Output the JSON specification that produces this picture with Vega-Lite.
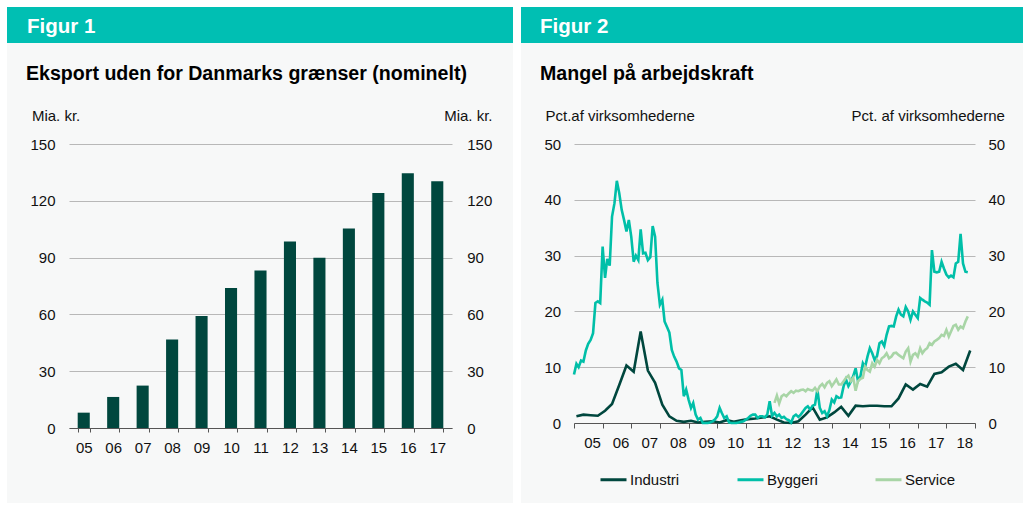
{
"$schema":"https://vega.github.io/schema/vega-lite/v6.json",
"background":"#f7f8f8",
"padding":0,
"columns":8,
"spacing":0,
"bounds":"flush",
"align":"each",
"config":{
 "view":{"stroke":null},
 "font":"Liberation Sans",
 "text":{"fontSize":0.1},
 "axis":{"labelFont":"Liberation Sans","labelFontSize":15,"labelColor":"#111111","titleFont":"Liberation Sans","titleFontSize":15,"titleFontWeight":"normal","titleColor":"#111111"},
 "legend":{"labelFont":"Liberation Sans","labelFontSize":15,"labelColor":"#111111"}
},
"datasets":{
 "blank":[{}],
 "bars":[
  {"year":"05","value":8.1},{"year":"06","value":16.4},{"year":"07","value":22.4},{"year":"08","value":46.7},
  {"year":"09","value":59.1},{"year":"10","value":74.0},{"year":"11","value":83.2},{"year":"12","value":98.5},
  {"year":"13","value":89.9},{"year":"14","value":105.4},{"year":"15","value":124.1},{"year":"16","value":134.5},
  {"year":"17","value":130.3}
 ],
 "lines":[
  {"d":"2005-02","s":"Industri","v":1.2},{"d":"2005-05","s":"Industri","v":1.5},{"d":"2005-08","s":"Industri","v":1.4},{"d":"2005-11","s":"Industri","v":1.3},
  {"d":"2006-02","s":"Industri","v":2.2},{"d":"2006-05","s":"Industri","v":3.4},{"d":"2006-08","s":"Industri","v":6.8},{"d":"2006-11","s":"Industri","v":10.3},
  {"d":"2007-02","s":"Industri","v":9.2},{"d":"2007-05","s":"Industri","v":16.4},{"d":"2007-08","s":"Industri","v":9.4},{"d":"2007-11","s":"Industri","v":7.2},
  {"d":"2008-02","s":"Industri","v":3.3},{"d":"2008-05","s":"Industri","v":1.2},{"d":"2008-08","s":"Industri","v":0.4},{"d":"2008-11","s":"Industri","v":0.2},
  {"d":"2009-02","s":"Industri","v":0.4},{"d":"2009-05","s":"Industri","v":0.1},{"d":"2009-08","s":"Industri","v":0.2},{"d":"2009-11","s":"Industri","v":0.3},
  {"d":"2010-02","s":"Industri","v":0.1},{"d":"2010-05","s":"Industri","v":0.5},{"d":"2010-08","s":"Industri","v":0.2},{"d":"2010-11","s":"Industri","v":0.5},
  {"d":"2011-02","s":"Industri","v":0.7},{"d":"2011-05","s":"Industri","v":0.8},{"d":"2011-08","s":"Industri","v":1.0},{"d":"2011-11","s":"Industri","v":1.2},
  {"d":"2012-02","s":"Industri","v":0.6},{"d":"2012-05","s":"Industri","v":0.1},{"d":"2012-08","s":"Industri","v":0.0},{"d":"2012-11","s":"Industri","v":0.3},
  {"d":"2013-02","s":"Industri","v":1.5},{"d":"2013-05","s":"Industri","v":2.8},{"d":"2013-08","s":"Industri","v":0.6},{"d":"2013-11","s":"Industri","v":1.0},
  {"d":"2014-02","s":"Industri","v":1.9},{"d":"2014-05","s":"Industri","v":2.9},{"d":"2014-08","s":"Industri","v":1.3},{"d":"2014-11","s":"Industri","v":3.1},
  {"d":"2015-02","s":"Industri","v":3.0},{"d":"2015-05","s":"Industri","v":3.1},{"d":"2015-08","s":"Industri","v":3.1},{"d":"2015-11","s":"Industri","v":3.0},
  {"d":"2016-02","s":"Industri","v":3.0},{"d":"2016-05","s":"Industri","v":4.4},{"d":"2016-08","s":"Industri","v":6.9},{"d":"2016-11","s":"Industri","v":6.0},
  {"d":"2017-02","s":"Industri","v":7.0},{"d":"2017-05","s":"Industri","v":6.5},{"d":"2017-08","s":"Industri","v":8.8},{"d":"2017-11","s":"Industri","v":9.1},
  {"d":"2018-02","s":"Industri","v":10.1},{"d":"2018-05","s":"Industri","v":10.6},{"d":"2018-08","s":"Industri","v":9.5},{"d":"2018-11","s":"Industri","v":13.0},

  {"d":"2005-01","s":"Byggeri","v":8.7},{"d":"2005-02","s":"Byggeri","v":10.6},{"d":"2005-03","s":"Byggeri","v":10.0},{"d":"2005-04","s":"Byggeri","v":11.2},{"d":"2005-05","s":"Byggeri","v":11.0},{"d":"2005-06","s":"Byggeri","v":13.0},{"d":"2005-07","s":"Byggeri","v":14.2},{"d":"2005-08","s":"Byggeri","v":14.9},{"d":"2005-09","s":"Byggeri","v":16.1},{"d":"2005-10","s":"Byggeri","v":21.5},{"d":"2005-11","s":"Byggeri","v":21.8},{"d":"2005-12","s":"Byggeri","v":21.5},
  {"d":"2006-01","s":"Byggeri","v":31.6},{"d":"2006-02","s":"Byggeri","v":26.0},{"d":"2006-03","s":"Byggeri","v":29.4},{"d":"2006-04","s":"Byggeri","v":28.2},{"d":"2006-05","s":"Byggeri","v":37.0},{"d":"2006-06","s":"Byggeri","v":39.4},{"d":"2006-07","s":"Byggeri","v":43.4},{"d":"2006-08","s":"Byggeri","v":41.2},{"d":"2006-09","s":"Byggeri","v":38.2},{"d":"2006-10","s":"Byggeri","v":36.4},{"d":"2006-11","s":"Byggeri","v":34.3},{"d":"2006-12","s":"Byggeri","v":36.4},
  {"d":"2007-01","s":"Byggeri","v":33.4},{"d":"2007-02","s":"Byggeri","v":28.9},{"d":"2007-03","s":"Byggeri","v":30.0},{"d":"2007-04","s":"Byggeri","v":29.2},{"d":"2007-05","s":"Byggeri","v":34.7},{"d":"2007-06","s":"Byggeri","v":30.4},{"d":"2007-07","s":"Byggeri","v":30.5},{"d":"2007-08","s":"Byggeri","v":29.2},{"d":"2007-09","s":"Byggeri","v":29.7},{"d":"2007-10","s":"Byggeri","v":35.3},{"d":"2007-11","s":"Byggeri","v":33.4},{"d":"2007-12","s":"Byggeri","v":25.1},
  {"d":"2008-01","s":"Byggeri","v":21.2},{"d":"2008-02","s":"Byggeri","v":22.1},{"d":"2008-03","s":"Byggeri","v":18.2},{"d":"2008-04","s":"Byggeri","v":17.2},{"d":"2008-05","s":"Byggeri","v":16.2},{"d":"2008-06","s":"Byggeri","v":13.1},{"d":"2008-07","s":"Byggeri","v":11.9},{"d":"2008-08","s":"Byggeri","v":11.0},{"d":"2008-09","s":"Byggeri","v":9.8},{"d":"2008-10","s":"Byggeri","v":9.5},{"d":"2008-11","s":"Byggeri","v":4.8},{"d":"2008-12","s":"Byggeri","v":6.0},
  {"d":"2009-01","s":"Byggeri","v":4.2},{"d":"2009-02","s":"Byggeri","v":2.7},{"d":"2009-03","s":"Byggeri","v":3.6},{"d":"2009-04","s":"Byggeri","v":1.5},{"d":"2009-05","s":"Byggeri","v":0.6},{"d":"2009-06","s":"Byggeri","v":0.9},{"d":"2009-07","s":"Byggeri","v":0.0},{"d":"2009-08","s":"Byggeri","v":0.0},{"d":"2009-09","s":"Byggeri","v":0.0},{"d":"2009-10","s":"Byggeri","v":0.1},{"d":"2009-11","s":"Byggeri","v":0.3},{"d":"2009-12","s":"Byggeri","v":0.6},
  {"d":"2010-01","s":"Byggeri","v":1.2},{"d":"2010-02","s":"Byggeri","v":2.7},{"d":"2010-03","s":"Byggeri","v":1.8},{"d":"2010-04","s":"Byggeri","v":0.9},{"d":"2010-05","s":"Byggeri","v":1.2},{"d":"2010-06","s":"Byggeri","v":0.1},{"d":"2010-07","s":"Byggeri","v":0.0},{"d":"2010-08","s":"Byggeri","v":0.0},{"d":"2010-09","s":"Byggeri","v":0.0},{"d":"2010-10","s":"Byggeri","v":0.1},{"d":"2010-11","s":"Byggeri","v":0.2},{"d":"2010-12","s":"Byggeri","v":0.3},
  {"d":"2011-01","s":"Byggeri","v":0.6},{"d":"2011-02","s":"Byggeri","v":0.9},{"d":"2011-03","s":"Byggeri","v":1.3},{"d":"2011-04","s":"Byggeri","v":1.5},{"d":"2011-05","s":"Byggeri","v":1.5},{"d":"2011-06","s":"Byggeri","v":0.9},{"d":"2011-07","s":"Byggeri","v":1.2},{"d":"2011-08","s":"Byggeri","v":1.2},{"d":"2011-09","s":"Byggeri","v":1.0},{"d":"2011-10","s":"Byggeri","v":1.5},{"d":"2011-11","s":"Byggeri","v":3.9},{"d":"2011-12","s":"Byggeri","v":1.3},
  {"d":"2012-01","s":"Byggeri","v":1.8},{"d":"2012-02","s":"Byggeri","v":1.2},{"d":"2012-03","s":"Byggeri","v":1.5},{"d":"2012-04","s":"Byggeri","v":0.9},{"d":"2012-05","s":"Byggeri","v":1.1},{"d":"2012-06","s":"Byggeri","v":0.7},{"d":"2012-07","s":"Byggeri","v":0.5},{"d":"2012-08","s":"Byggeri","v":0.1},{"d":"2012-09","s":"Byggeri","v":1.2},{"d":"2012-10","s":"Byggeri","v":1.5},{"d":"2012-11","s":"Byggeri","v":1.1},{"d":"2012-12","s":"Byggeri","v":1.5},
  {"d":"2013-01","s":"Byggeri","v":2.1},{"d":"2013-02","s":"Byggeri","v":2.7},{"d":"2013-03","s":"Byggeri","v":3.0},{"d":"2013-04","s":"Byggeri","v":2.4},{"d":"2013-05","s":"Byggeri","v":3.1},{"d":"2013-06","s":"Byggeri","v":3.3},{"d":"2013-07","s":"Byggeri","v":6.0},{"d":"2013-08","s":"Byggeri","v":2.7},{"d":"2013-09","s":"Byggeri","v":1.8},{"d":"2013-10","s":"Byggeri","v":2.1},{"d":"2013-11","s":"Byggeri","v":1.2},{"d":"2013-12","s":"Byggeri","v":2.3},
  {"d":"2014-01","s":"Byggeri","v":4.2},{"d":"2014-02","s":"Byggeri","v":3.7},{"d":"2014-03","s":"Byggeri","v":4.8},{"d":"2014-04","s":"Byggeri","v":4.5},{"d":"2014-05","s":"Byggeri","v":4.6},{"d":"2014-06","s":"Byggeri","v":6.6},{"d":"2014-07","s":"Byggeri","v":7.8},{"d":"2014-08","s":"Byggeri","v":6.6},{"d":"2014-09","s":"Byggeri","v":7.4},{"d":"2014-10","s":"Byggeri","v":8.4},{"d":"2014-11","s":"Byggeri","v":9.8},{"d":"2014-12","s":"Byggeri","v":7.5},
  {"d":"2015-01","s":"Byggeri","v":8.4},{"d":"2015-02","s":"Byggeri","v":10.7},{"d":"2015-03","s":"Byggeri","v":10.0},{"d":"2015-04","s":"Byggeri","v":11.9},{"d":"2015-05","s":"Byggeri","v":13.4},{"d":"2015-06","s":"Byggeri","v":12.5},{"d":"2015-07","s":"Byggeri","v":11.3},{"d":"2015-08","s":"Byggeri","v":12.0},{"d":"2015-09","s":"Byggeri","v":14.3},{"d":"2015-10","s":"Byggeri","v":14.6},{"d":"2015-11","s":"Byggeri","v":13.8},{"d":"2015-12","s":"Byggeri","v":15.8},
  {"d":"2016-01","s":"Byggeri","v":17.3},{"d":"2016-02","s":"Byggeri","v":17.4},{"d":"2016-03","s":"Byggeri","v":17.3},{"d":"2016-04","s":"Byggeri","v":19.1},{"d":"2016-05","s":"Byggeri","v":20.3},{"d":"2016-06","s":"Byggeri","v":19.4},{"d":"2016-07","s":"Byggeri","v":19.1},{"d":"2016-08","s":"Byggeri","v":20.8},{"d":"2016-09","s":"Byggeri","v":20.0},{"d":"2016-10","s":"Byggeri","v":18.5},{"d":"2016-11","s":"Byggeri","v":20.0},{"d":"2016-12","s":"Byggeri","v":19.4},
  {"d":"2017-01","s":"Byggeri","v":18.8},{"d":"2017-02","s":"Byggeri","v":22.4},{"d":"2017-03","s":"Byggeri","v":22.1},{"d":"2017-04","s":"Byggeri","v":21.8},{"d":"2017-05","s":"Byggeri","v":21.6},{"d":"2017-06","s":"Byggeri","v":21.2},{"d":"2017-07","s":"Byggeri","v":31.0},{"d":"2017-08","s":"Byggeri","v":27.1},{"d":"2017-09","s":"Byggeri","v":27.0},{"d":"2017-10","s":"Byggeri","v":27.1},{"d":"2017-11","s":"Byggeri","v":28.9},{"d":"2017-12","s":"Byggeri","v":27.7},
  {"d":"2018-01","s":"Byggeri","v":26.6},{"d":"2018-02","s":"Byggeri","v":26.1},{"d":"2018-03","s":"Byggeri","v":26.4},{"d":"2018-04","s":"Byggeri","v":26.1},{"d":"2018-05","s":"Byggeri","v":28.6},{"d":"2018-06","s":"Byggeri","v":28.9},{"d":"2018-07","s":"Byggeri","v":33.9},{"d":"2018-08","s":"Byggeri","v":28.6},{"d":"2018-09","s":"Byggeri","v":27.1},{"d":"2018-10","s":"Byggeri","v":27.0},

  {"d":"2012-01","s":"Service","v":3.6},{"d":"2012-02","s":"Service","v":4.9},{"d":"2012-03","s":"Service","v":3.5},{"d":"2012-04","s":"Service","v":4.8},{"d":"2012-05","s":"Service","v":5.1},{"d":"2012-06","s":"Service","v":4.8},{"d":"2012-07","s":"Service","v":5.3},{"d":"2012-08","s":"Service","v":5.7},{"d":"2012-09","s":"Service","v":5.4},{"d":"2012-10","s":"Service","v":5.8},{"d":"2012-11","s":"Service","v":5.7},{"d":"2012-12","s":"Service","v":5.9},
  {"d":"2013-01","s":"Service","v":6.0},{"d":"2013-02","s":"Service","v":5.7},{"d":"2013-03","s":"Service","v":6.1},{"d":"2013-04","s":"Service","v":5.9},{"d":"2013-05","s":"Service","v":5.8},{"d":"2013-06","s":"Service","v":6.3},{"d":"2013-07","s":"Service","v":5.7},{"d":"2013-08","s":"Service","v":6.6},{"d":"2013-09","s":"Service","v":7.0},{"d":"2013-10","s":"Service","v":6.4},{"d":"2013-11","s":"Service","v":7.2},{"d":"2013-12","s":"Service","v":7.5},
  {"d":"2014-01","s":"Service","v":6.6},{"d":"2014-02","s":"Service","v":7.2},{"d":"2014-03","s":"Service","v":7.8},{"d":"2014-04","s":"Service","v":6.9},{"d":"2014-05","s":"Service","v":6.9},{"d":"2014-06","s":"Service","v":7.5},{"d":"2014-07","s":"Service","v":8.1},{"d":"2014-08","s":"Service","v":8.5},{"d":"2014-09","s":"Service","v":7.5},{"d":"2014-10","s":"Service","v":8.1},{"d":"2014-11","s":"Service","v":5.8},{"d":"2014-12","s":"Service","v":7.5},
  {"d":"2015-01","s":"Service","v":7.9},{"d":"2015-02","s":"Service","v":8.1},{"d":"2015-03","s":"Service","v":10.1},{"d":"2015-04","s":"Service","v":9.5},{"d":"2015-05","s":"Service","v":9.2},{"d":"2015-06","s":"Service","v":10.7},{"d":"2015-07","s":"Service","v":10.1},{"d":"2015-08","s":"Service","v":11.3},{"d":"2015-09","s":"Service","v":10.7},{"d":"2015-10","s":"Service","v":11.6},{"d":"2015-11","s":"Service","v":11.9},{"d":"2015-12","s":"Service","v":12.5},
  {"d":"2016-01","s":"Service","v":11.6},{"d":"2016-02","s":"Service","v":11.9},{"d":"2016-03","s":"Service","v":12.5},{"d":"2016-04","s":"Service","v":12.6},{"d":"2016-05","s":"Service","v":12.2},{"d":"2016-06","s":"Service","v":11.9},{"d":"2016-07","s":"Service","v":11.6},{"d":"2016-08","s":"Service","v":12.8},{"d":"2016-09","s":"Service","v":13.4},{"d":"2016-10","s":"Service","v":11.0},{"d":"2016-11","s":"Service","v":12.2},{"d":"2016-12","s":"Service","v":12.5},
  {"d":"2017-01","s":"Service","v":11.9},{"d":"2017-02","s":"Service","v":13.4},{"d":"2017-03","s":"Service","v":12.5},{"d":"2017-04","s":"Service","v":13.1},{"d":"2017-05","s":"Service","v":13.4},{"d":"2017-06","s":"Service","v":14.3},{"d":"2017-07","s":"Service","v":14.0},{"d":"2017-08","s":"Service","v":14.6},{"d":"2017-09","s":"Service","v":14.9},{"d":"2017-10","s":"Service","v":15.2},{"d":"2017-11","s":"Service","v":15.8},{"d":"2017-12","s":"Service","v":15.6},
  {"d":"2018-01","s":"Service","v":16.7},{"d":"2018-02","s":"Service","v":15.5},{"d":"2018-03","s":"Service","v":16.4},{"d":"2018-04","s":"Service","v":17.4},{"d":"2018-05","s":"Service","v":17.6},{"d":"2018-06","s":"Service","v":16.7},{"d":"2018-07","s":"Service","v":17.3},{"d":"2018-08","s":"Service","v":17.0},{"d":"2018-09","s":"Service","v":18.2},{"d":"2018-10","s":"Service","v":19.1}
 ]
},
"concat":[
 {"width":7,"height":7,"view":{"fill":"#ffffff"},"data":{"name":"blank"},"mark":{"type":"text","text":""}},
 {"width":62,"height":7,"view":{"fill":"#ffffff"},"data":{"name":"blank"},"mark":{"type":"text","text":""}},
 {"width":383,"height":7,"view":{"fill":"#ffffff"},"data":{"name":"blank"},"mark":{"type":"text","text":""}},
 {"width":61,"height":7,"view":{"fill":"#ffffff"},"data":{"name":"blank"},"mark":{"type":"text","text":""}},
 {"width":8,"height":7,"view":{"fill":"#ffffff"},"data":{"name":"blank"},"mark":{"type":"text","text":""}},
 {"width":53,"height":7,"view":{"fill":"#ffffff"},"data":{"name":"blank"},"mark":{"type":"text","text":""}},
 {"width":401,"height":7,"view":{"fill":"#ffffff"},"data":{"name":"blank"},"mark":{"type":"text","text":""}},
 {"width":48,"height":7,"view":{"fill":"#ffffff"},"data":{"name":"blank"},"mark":{"type":"text","text":""}},

 {"width":7,"height":36,"view":{"fill":"#ffffff"},"data":{"name":"blank"},"mark":{"type":"text","text":""}},
 {"width":62,"height":36,"view":{"fill":"#00bfb3"},"data":{"name":"blank"},"mark":{"type":"text","text":""}},
 {"width":383,"height":36,"view":{"fill":"#00bfb3"},"data":{"name":"blank"},"mark":{"type":"text","text":""},
  "title":{"text":"Figur 1","anchor":"start","frame":"group","orient":"top","offset":0,"dx":-42,"dy":46.5,"baseline":"alphabetic","color":"#ffffff","fontSize":20.5,"fontWeight":"bold","font":"Liberation Sans"}},
 {"width":61,"height":36,"view":{"fill":"#00bfb3"},"data":{"name":"blank"},"mark":{"type":"text","text":""}},
 {"width":8,"height":36,"view":{"fill":"#ffffff"},"data":{"name":"blank"},"mark":{"type":"text","text":""}},
 {"width":53,"height":36,"view":{"fill":"#00bfb3"},"data":{"name":"blank"},"mark":{"type":"text","text":""}},
 {"width":401,"height":36,"view":{"fill":"#00bfb3"},"data":{"name":"blank"},"mark":{"type":"text","text":""},
  "title":{"text":"Figur 2","anchor":"start","frame":"group","orient":"top","offset":0,"dx":-34,"dy":46.5,"baseline":"alphabetic","color":"#ffffff","fontSize":20.5,"fontWeight":"bold","font":"Liberation Sans"}},
 {"width":48,"height":36,"view":{"fill":"#00bfb3"},"data":{"name":"blank"},"mark":{"type":"text","text":""}},

 {"width":7,"height":101,"view":{"fill":"#ffffff"},"data":{"name":"blank"},"mark":{"type":"text","text":""}},
 {"width":62,"height":101,"data":{"name":"blank"},"mark":{"type":"text","text":""}},
 {"width":383,"height":101,"data":{"name":"blank"},"mark":{"type":"text","text":""}},
 {"width":61,"height":101,"data":{"name":"blank"},"mark":{"type":"text","text":""}},
 {"width":8,"height":101,"view":{"fill":"#ffffff"},"data":{"name":"blank"},"mark":{"type":"text","text":""}},
 {"width":53,"height":101,"data":{"name":"blank"},"mark":{"type":"text","text":""}},
 {"width":401,"height":101,"data":{"name":"blank"},"mark":{"type":"text","text":""}},
 {"width":48,"height":101,"data":{"name":"blank"},"mark":{"type":"text","text":""}},

 {"width":7,"height":284,"view":{"fill":"#ffffff"},"data":{"name":"blank"},"mark":{"type":"text","text":""}},
 {"width":62,"height":284,"data":{"name":"blank"},"mark":{"type":"text","text":""}},
 {"width":383,"height":284,
  "data":{"name":"bars"},
  "title":{"text":"Eksport uden for Danmarks grænser (nominelt)","anchor":"start","frame":"group","dx":-43,"offset":9,"baseline":"alphabetic","color":"#000000","fontSize":19.6,"fontWeight":"bold","font":"Liberation Sans"},
  "encoding":{"x":{"field":"year","type":"ordinal","sort":null,"scale":{"paddingInner":0.59,"paddingOuter":0.295},
     "axis":{"title":null,"labelAngle":0,"domainColor":"#555555","tickColor":"#555555","tickSize":4,"tickBand":"extent","labelPadding":8,"grid":false,"labelBaseline":"top"}}},
  "layer":[
    {"mark":{"type":"bar","color":"#00473e"},
     "encoding":{"y":{"field":"value","type":"quantitative","scale":{"domain":[0,150]},
       "axis":{"orient":"left","values":[0,30,60,90,120,150],"grid":true,"gridColor":"#b8b8b8","domain":false,"ticks":false,"tickSize":0,"labelPadding":14,
               "title":"Mia. kr.","titleAngle":0,"titleAlign":"left","titleBaseline":"alphabetic","titleX":-37.6,"titleY":-23.5}}}},
    {"mark":{"type":"bar","opacity":0},
     "encoding":{"y":{"field":"value","type":"quantitative","scale":{"domain":[0,150]},
       "axis":{"orient":"right","values":[0,30,60,90,120,150],"grid":false,"domain":false,"ticks":false,"tickSize":0,"labelPadding":14.7,
               "title":"Mia. kr.","titleAngle":0,"titleAlign":"right","titleBaseline":"alphabetic","titleX":40,"titleY":-23.5}}}}
  ],
  "resolve":{"scale":{"y":"independent"}}
 },
 {"width":61,"height":284,"data":{"name":"blank"},"mark":{"type":"text","text":""}},
 {"width":8,"height":284,"view":{"fill":"#ffffff"},"data":{"name":"blank"},"mark":{"type":"text","text":""}},
 {"width":53,"height":284,"data":{"name":"blank"},"mark":{"type":"text","text":""}},
 {"width":401,"height":279,
  "data":{"name":"lines"},
  "title":{"text":"Mangel på arbejdskraft","anchor":"start","frame":"group","dx":-34,"offset":9,"baseline":"alphabetic","color":"#000000","fontSize":19.6,"fontWeight":"bold","font":"Liberation Sans"},
  "encoding":{"x":{"field":"d","type":"temporal",
     "scale":{"type":"utc","domain":[{"year":2005,"month":1,"date":1,"utc":true},{"year":2019,"month":1,"date":1,"utc":true}]},
     "axis":{"title":null,"values":[{"year":2005,"month":1,"date":1,"utc":true},{"year":2006,"month":1,"date":1,"utc":true},{"year":2007,"month":1,"date":1,"utc":true},{"year":2008,"month":1,"date":1,"utc":true},{"year":2009,"month":1,"date":1,"utc":true},{"year":2010,"month":1,"date":1,"utc":true},{"year":2011,"month":1,"date":1,"utc":true},{"year":2012,"month":1,"date":1,"utc":true},{"year":2013,"month":1,"date":1,"utc":true},{"year":2014,"month":1,"date":1,"utc":true},{"year":2015,"month":1,"date":1,"utc":true},{"year":2016,"month":1,"date":1,"utc":true},{"year":2017,"month":1,"date":1,"utc":true},{"year":2018,"month":1,"date":1,"utc":true},{"year":2019,"month":1,"date":1,"utc":true}],
       "labelExpr":"utcyear(datum.value) > 2018 ? '' : utcFormat(datum.value, '%y')",
       "labelOffset":18,"labelFlush":false,"labelOverlap":false,"labelBound":false,"labelAngle":0,"labelAlign":"center","labelBaseline":"top",
       "domainColor":"#555555","tickColor":"#555555","tickSize":5,"labelPadding":7,"grid":false}}},
  "layer":[
    {"mark":{"type":"line","strokeWidth":2.6,"interpolate":"linear"},
     "encoding":{
       "y":{"field":"v","type":"quantitative","scale":{"domain":[0,50]},
         "axis":{"orient":"left","values":[0,10,20,30,40,50],"grid":true,"gridColor":"#b8b8b8","domain":false,"ticks":false,"tickSize":0,"labelPadding":13.3,
                 "title":"Pct.af virksomhederne","titleAngle":0,"titleAlign":"left","titleBaseline":"alphabetic","titleX":-29,"titleY":-23.5}},
       "color":{"field":"s","type":"nominal","sort":["Industri","Byggeri","Service"],
         "scale":{"domain":["Industri","Byggeri","Service"],"range":["#00473e","#00bfa8","#a8d5a6"]},
         "legend":{"orient":"none","legendX":599,"legendY":465,"direction":"horizontal","title":null,"symbolType":"stroke","symbolSize":676,"symbolStrokeWidth":3,"labelOffset":2,"columnPadding":51,"padding":0,"labelFontSize":15}}}},
    {"mark":{"type":"line","opacity":0},
     "encoding":{
       "detail":{"field":"s"},
       "y":{"field":"v","type":"quantitative","scale":{"domain":[0,50]},
         "axis":{"orient":"right","values":[0,10,20,30,40,50],"grid":false,"domain":false,"ticks":false,"tickSize":0,"labelPadding":13,
                 "title":"Pct. af virksomhederne","titleAngle":0,"titleAlign":"right","titleBaseline":"alphabetic","titleX":29.4,"titleY":-23.5}}}}
  ],
  "resolve":{"scale":{"y":"independent"}}
 },
 {"width":48,"height":284,"data":{"name":"blank"},"mark":{"type":"text","text":""}},

 {"width":7,"height":75,"view":{"fill":"#ffffff"},"data":{"name":"blank"},"mark":{"type":"text","text":""}},
 {"width":62,"height":75,"data":{"name":"blank"},"mark":{"type":"text","text":""}},
 {"width":383,"height":75,"data":{"name":"blank"},"mark":{"type":"text","text":""}},
 {"width":61,"height":75,"data":{"name":"blank"},"mark":{"type":"text","text":""}},
 {"width":8,"height":75,"view":{"fill":"#ffffff"},"data":{"name":"blank"},"mark":{"type":"text","text":""}},
 {"width":53,"height":75,"data":{"name":"blank"},"mark":{"type":"text","text":""}},
 {"width":401,"height":75,"data":{"name":"blank"},"mark":{"type":"text","text":""}},
 {"width":48,"height":75,"data":{"name":"blank"},"mark":{"type":"text","text":""}},

 {"width":7,"height":2,"view":{"fill":"#ffffff"},"data":{"name":"blank"},"mark":{"type":"text","text":""}},
 {"width":62,"height":2,"view":{"fill":"#ffffff"},"data":{"name":"blank"},"mark":{"type":"text","text":""}},
 {"width":383,"height":2,"view":{"fill":"#ffffff"},"data":{"name":"blank"},"mark":{"type":"text","text":""}},
 {"width":61,"height":2,"view":{"fill":"#ffffff"},"data":{"name":"blank"},"mark":{"type":"text","text":""}},
 {"width":8,"height":2,"view":{"fill":"#ffffff"},"data":{"name":"blank"},"mark":{"type":"text","text":""}},
 {"width":53,"height":2,"view":{"fill":"#ffffff"},"data":{"name":"blank"},"mark":{"type":"text","text":""}},
 {"width":401,"height":2,"view":{"fill":"#ffffff"},"data":{"name":"blank"},"mark":{"type":"text","text":""}},
 {"width":48,"height":2,"view":{"fill":"#ffffff"},"data":{"name":"blank"},"mark":{"type":"text","text":""}}
]
}
